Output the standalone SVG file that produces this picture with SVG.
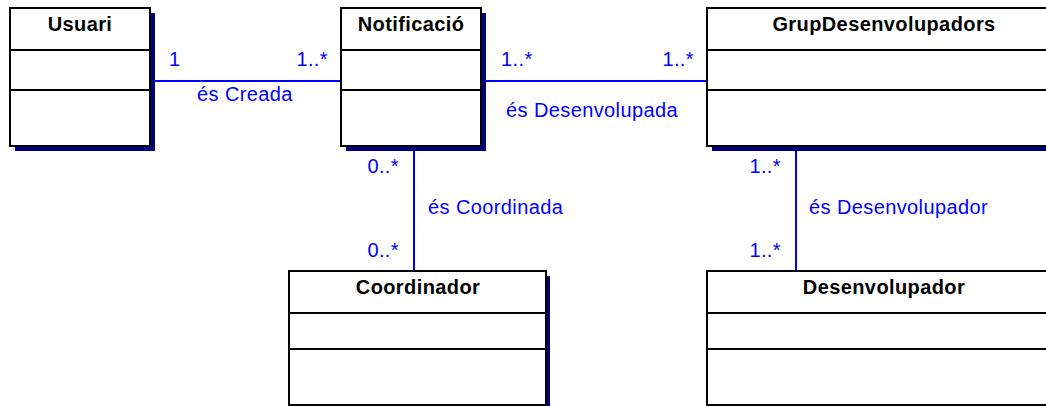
<svg xmlns="http://www.w3.org/2000/svg" width="1046" height="406" viewBox="0 0 1046 406">
<style>
.sh{fill:#000080}
.bx{fill:#fff;stroke:#000;stroke-width:2}
.dv{stroke:#000;stroke-width:2}
.t{font-family:"Liberation Sans",Arial,sans-serif;font-weight:bold;font-size:20px;fill:#000;text-anchor:middle;letter-spacing:0.4px}
.c{stroke:#0000ff;stroke-width:2;fill:none}
.l{font-family:"Liberation Sans",Arial,sans-serif;font-size:20px;fill:#0000ff;letter-spacing:0.4px}
.r{text-anchor:end}
</style>
<rect width="1046" height="406" fill="#fff"/>
<g id="connectors">
<line class="c" x1="155" y1="81" x2="341" y2="81"/>
<line class="c" x1="486" y1="81" x2="707" y2="81"/>
<line class="c" x1="414" y1="151" x2="414" y2="271"/>
<line class="c" x1="796" y1="151" x2="796" y2="271"/>
<text class="l" x="169" y="66">1</text>
<text class="l r" x="328" y="66">1..*</text>
<text class="l" x="197" y="101">és Creada</text>
<text class="l" x="501" y="66">1..*</text>
<text class="l r" x="694" y="66">1..*</text>
<text class="l" x="506" y="117">és Desenvolupada</text>
<text class="l r" x="399" y="173">0..*</text>
<text class="l" x="428" y="214">és Coordinada</text>
<text class="l r" x="399" y="257">0..*</text>
<text class="l r" x="781" y="173">1..*</text>
<text class="l" x="809" y="214">és Desenvolupador</text>
<text class="l r" x="781" y="257">1..*</text>
</g>
<g id="usuari">
<rect class="sh" x="15" y="13" width="140" height="138"/>
<rect class="bx" x="10" y="8" width="140" height="138"/>
<line class="dv" x1="10" y1="50" x2="150" y2="50"/>
<line class="dv" x1="10" y1="90" x2="150" y2="90"/>
<text class="t" x="80" y="31">Usuari</text>
</g>
<g id="notificacio">
<rect class="sh" x="346" y="13" width="140" height="138"/>
<rect class="bx" x="341" y="8" width="140" height="138"/>
<line class="dv" x1="341" y1="50" x2="481" y2="50"/>
<line class="dv" x1="341" y1="90" x2="481" y2="90"/>
<text class="t" x="411" y="31">Notificació</text>
</g>
<g id="grupdesenvolupadors">
<rect class="sh" x="712" y="13" width="355" height="138"/>
<rect class="bx" x="707" y="8" width="355" height="138"/>
<line class="dv" x1="707" y1="50" x2="1062" y2="50"/>
<line class="dv" x1="707" y1="90" x2="1062" y2="90"/>
<text class="t" x="884" y="31">GrupDesenvolupadors</text>
</g>
<g id="coordinador">
<rect class="sh" x="294" y="276" width="256" height="140"/>
<rect class="bx" x="289" y="271" width="257" height="134"/>
<line class="dv" x1="289" y1="313" x2="546" y2="313"/>
<line class="dv" x1="289" y1="349" x2="546" y2="349"/>
<text class="t" x="418" y="294">Coordinador</text>
</g>
<g id="desenvolupador">
<rect class="sh" x="712" y="276" width="355" height="140"/>
<rect class="bx" x="707" y="271" width="355" height="134"/>
<line class="dv" x1="707" y1="313" x2="1062" y2="313"/>
<line class="dv" x1="707" y1="349" x2="1062" y2="349"/>
<text class="t" x="884" y="294">Desenvolupador</text>
</g>
</svg>
